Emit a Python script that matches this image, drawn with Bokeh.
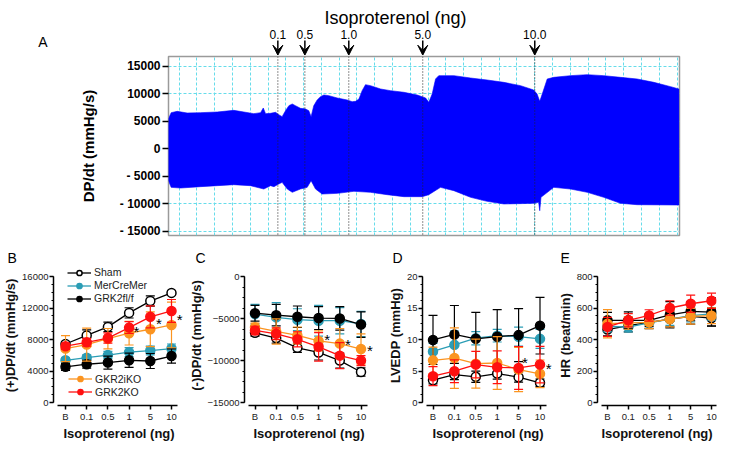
from bokeh.plotting import figure
from bokeh.layouts import column, row
from bokeh.models import (FixedTicker, SingleIntervalTicker, Span, Arrow, VeeHead,
                          Legend, LegendItem, Range1d)
from bokeh.embed import file_html
from bokeh.resources import INLINE
from bokeh.core.properties import value

FONT = "Liberation Sans"

# ---------------- Panel A : pressure-derivative trace envelope ----------------
# time in chart grid units, values in mmHg/s
upper_t = [0.00, 0.15, 0.49, 1.05, 1.80, 2.74, 3.67, 4.24, 4.80, 5.18, 5.33, 5.46, 5.74, 6.02,
           6.20, 6.39, 6.58, 6.77, 6.96, 7.14, 7.42, 7.71, 7.89, 8.02, 8.17, 8.36, 8.55, 8.74,
           9.02, 9.49, 10.05, 10.33, 10.52, 10.71, 10.89, 11.08, 11.36, 11.93, 12.49, 13.24,
           13.99, 14.46, 14.64, 14.83, 15.02, 15.20, 16.05, 16.99, 17.92, 18.86, 19.80, 20.54,
           20.73, 20.88, 21.02, 21.30, 21.67, 22.61, 23.55, 24.48, 25.42, 26.36, 27.30, 28.24,
           28.71]
upper_v = [5500, 6600, 6840, 6540, 6600, 6720, 7020, 6720, 6420, 6600, 7450, 6420, 6480, 6660,
           6240, 5870, 6960, 7870, 8180, 7870, 7390, 7270, 6960, 5870, 7870, 8900, 9510, 9810,
           9690, 9270, 8900, 8600, 8660, 9080, 10600, 11690, 11510, 10900, 10600, 10300,
           9810, 9270, 8480, 9990, 12720, 13330, 13330, 12900, 12540, 12110, 11510, 10720,
           9990, 8660, 9990, 12720, 13020, 13330, 13510, 13330, 13020, 12720, 12110, 11330,
           10900]
lower_t = [0.00, 0.15, 0.68, 1.80, 2.74, 3.67, 4.61, 5.36, 5.74, 5.93, 6.20, 6.39, 6.68, 6.96,
           7.42, 7.80, 8.02, 8.27, 8.64, 9.49, 10.43, 11.36, 12.30, 13.24, 14.27, 14.64, 15.30,
           16.05, 16.99, 17.92, 18.86, 20.54, 20.82, 20.88, 20.95, 21.67, 22.61, 23.55, 24.48,
           25.42, 26.36, 28.71]
lower_v = [-5760, -6980, -7100, -6850, -6670, -6490, -6670, -7280, -6670, -6850, -6370, -6070,
           -7280, -7880, -7280, -6980, -5760, -7280, -8190, -8070, -7700, -7880, -8310, -8670,
           -8670, -8310, -6980, -7580, -8790, -9520, -10000, -9880, -9700, -11220, -8790,
           -6980, -7280, -7880, -8790, -9880, -10130, -10190]
a_ticks = [-15000, -10000, -5000, 0, 5000, 10000, 15000]
a_tick_labels = ["- 15000", "- 10000", "- 5000", "0", "5000", "10000", "15000"]
inject_t = [6.15, 7.67, 10.14, 14.30, 20.60]
inject_labels = ["0.1", "0.5", "1.0", "5.0", "10.0"]
grid_t = [0.6 + k for k in range(29)]

# ---------------- Panels B-E : dose response ----------------
categories = ["B", "0.1", "0.5", "1", "5", "10"]
groups = ["Sham", "MerCreMer", "GRK2fl/f", "GKR2iKO", "GRK2KO"]

b_mean = {"Sham": [7430, 8520, 9600, 11380, 12880, 13920],
          "MerCreMer": [5360, 5690, 6020, 6400, 6600, 6850],
          "GRK2fl/f": [4530, 4860, 5070, 5360, 5270, 5900],
          "GKR2iKO": [6850, 7350, 8100, 8800, 9300, 9850],
          "GRK2KO": [7150, 7640, 8180, 9510, 10880, 11630]}
b_err = {"Sham": [300, 700, 600, 650, 650, 250],
         "MerCreMer": [300, 350, 460, 560, 560, 580],
         "GRK2fl/f": [450, 500, 830, 900, 950, 900],
         "GKR2iKO": [1650, 2100, 1300, 1500, 2200, 2900],
         "GRK2KO": [400, 500, 650, 750, 1400, 1450]}
c_mean = {"Sham": [-6700, -7330, -8490, -9040, -10010, -11370],
          "MerCreMer": [-4480, -4870, -5140, -5260, -5260, -5650],
          "GRK2fl/f": [-4370, -4600, -4790, -4950, -4990, -5720],
          "GKR2iKO": [-6040, -6540, -7010, -7670, -7990, -8640],
          "GRK2KO": [-6420, -6820, -7480, -8370, -9420, -10010]}
c_err = {"Sham": [400, 600, 550, 900, 900, 500],
         "MerCreMer": [1170, 1750, 1300, 1830, 1560, 1500],
         "GRK2fl/f": [935, 1280, 1280, 1360, 1400, 1520],
         "GKR2iKO": [500, 1500, 1000, 1200, 1800, 1800],
         "GRK2KO": [500, 700, 900, 1700, 1550, 600]}
d_mean = {"Sham": [3.55, 4.44, 4.08, 4.60, 4.02, 3.13],
          "MerCreMer": [8.1, 9.15, 10.2, 10.6, 10.45, 10.1],
          "GRK2fl/f": [9.93, 10.8, 10.1, 10.45, 10.7, 12.2],
          "GKR2iKO": [6.69, 7.05, 6.17, 6.27, 5.23, 4.55],
          "GRK2KO": [4.18, 4.97, 6.02, 5.59, 5.49, 6.02]}
d_err = {"Sham": [0.6, 0.8, 0.9, 0.9, 0.8, 0.6],
         "MerCreMer": [1.3, 2.2, 1.05, 1.0, 1.5, 1.5],
         "GRK2fl/f": [3.9, 4.6, 4.2, 4.3, 4.2, 4.5],
         "GKR2iKO": [2.1, 4.8, 3.9, 4.2, 3.5, 2.2],
         "GRK2KO": [1.5, 1.8, 2.1, 2.6, 3.4, 2.9]}
e_mean = {"Sham": [463, 488, 509, 530, 547, 536],
          "MerCreMer": [484, 478, 505, 530, 551, 563],
          "GRK2fl/f": [522, 522, 522, 557, 579, 574],
          "GKR2iKO": [500, 505, 509, 530, 547, 551],
          "GRK2KO": [480, 522, 553, 600, 627, 646]}
e_err = {"Sham": [40, 40, 40, 50, 50, 50],
         "MerCreMer": [35, 30, 35, 40, 40, 40],
         "GRK2fl/f": [50, 53, 40, 84, 60, 90],
         "GKR2iKO": [90, 40, 40, 50, 50, 50],
         "GRK2KO": [60, 42, 36, 46, 55, 48]}

b_star_x = [3.35, 4.41, 5.38]
b_star_y = [9430, 10350, 10970]
c_star_x = [3.40, 4.38, 5.42]
c_star_y = [-7090, -7710, -8490]
d_star_x = [4.30, 5.41]
d_star_y = [6.8, 5.86]

line_col = {"Sham": "#000000", "MerCreMer": "#2b9db5", "GRK2fl/f": "#000000",
            "GKR2iKO": "#fb9420", "GRK2KO": "#ff1010"}
fill_col = {"Sham": "#ffffff", "MerCreMer": "#2b9db5", "GRK2fl/f": "#000000",
            "GKR2iKO": "#fb9420", "GRK2KO": "#ff1010"}

# ======================= Panel A geometry =======================
gpx = 17.78  # px per grid unit of panel A
A_LEFT, A_FW, A_FH = 168, 511, 179
A_RIGHT = 716 - A_LEFT - A_FW
A_Y0, A_Y1 = -15730, 16810
x_range_a = Range1d(0, A_FW / gpx)

# ======================= Top strip (title, arrows, dose labels) =======================
STRIP_H = 55
pTop = figure(frame_width=A_FW, frame_height=STRIP_H, min_border_left=A_LEFT,
              min_border_right=A_RIGHT, min_border_top=0, min_border_bottom=0, title=None,
              x_range=x_range_a, y_range=Range1d(0, STRIP_H),
              output_backend="svg", toolbar_location=None)
pTop.xaxis.visible = False
pTop.grid.visible = False
pTop.outline_line_color = None
# the panel letter "A" is carried by the strip's (otherwise invisible) left axis
ta = pTop.yaxis[0]
ta.ticker = FixedTicker(ticks=[14])
ta.major_label_overrides = {14: "A"}
ta.axis_line_color = None
ta.major_tick_line_color = None
ta.minor_tick_line_color = None
ta.major_tick_out = 0
ta.major_tick_in = 0
ta.major_label_standoff = A_LEFT - 47
ta.major_label_text_font = FONT
ta.major_label_text_font_size = "14px"
ta.major_label_text_color = "black"
# y in strip = px above panel A frame top
for t in inject_t:
    pTop.add_layout(Arrow(end=VeeHead(size=10, fill_color="black", line_color="black",
                                      line_width=1),
                          x_start=t, y_start=15, x_end=t, y_end=0.3,
                          line_color="black", line_width=1.5))
pTop.text(inject_t, [21] * len(inject_t), text=inject_labels, text_font=value(FONT),
          text_font_size="12px", text_align="center", text_baseline="middle",
          text_color="black")
pTop.text([(395 - 168) / gpx], [38], text=["Isoproterenol (ng)"], text_font=value(FONT),
          text_font_size="18px", text_align="center", text_baseline="middle",
          text_color="black")

# ======================= Panel A =======================
pA = figure(frame_width=A_FW, frame_height=A_FH, min_border_left=A_LEFT,
            min_border_right=A_RIGHT, min_border_top=1, min_border_bottom=3, title=None,
            x_range=x_range_a, y_range=Range1d(A_Y0, A_Y1),
            output_backend="svg", toolbar_location=None)
pA.xaxis.visible = False
pA.outline_line_color = "#9a9a9a"
pA.outline_line_width = 1.5
pA.xgrid.ticker = FixedTicker(ticks=grid_t)
pA.ygrid.ticker = FixedTicker(ticks=a_ticks)
pA.grid.grid_line_color = "#66dcea"
pA.grid.grid_line_dash = "3 2"
pA.grid.grid_line_width = 1
ya = pA.yaxis[0]
ya.ticker = FixedTicker(ticks=a_ticks)
ya.major_label_overrides = {t: s for t, s in zip(a_ticks, a_tick_labels)}
ya.axis_line_color = None
ya.major_tick_line_color = "black"
ya.major_tick_line_width = 1.5
ya.major_tick_out = 6
ya.major_tick_in = 0
ya.minor_tick_line_color = None
ya.major_label_standoff = 2
ya.major_label_text_font = FONT
ya.major_label_text_font_style = "bold"
ya.major_label_text_font_size = "12px"
ya.major_label_text_color = "black"
ya.axis_label = "DP/dt (mmHg/s)"
ya.axis_label_text_font = FONT
ya.axis_label_text_font_style = "bold"
ya.axis_label_text_font_size = "15px"
ya.axis_label_text_color = "black"
ya.axis_label_standoff = 20

xs_patch = upper_t + lower_t[::-1]
ys_patch = upper_v + lower_v[::-1]
pA.patch(xs_patch, ys_patch, fill_color="#0000ff", line_color="#0000ff", line_width=0.6)
for t in inject_t:
    pA.add_layout(Span(location=t, dimension="height", line_color="#222222",
                       line_dash="1 2", line_width=1))

# ======================= Panels B-E =======================
TICK_PX = 126  # px spanned by the y tick range
GAP = 3        # px below zero tick
EXT = 11       # px above top tick (room for legend)
FH = TICK_PX + GAP + EXT


def panel(fw, sp, first_px, mbl, mbr, ymin, ymax, step, ytitle, mean, err, letter,
          letter_off, star_x=None, star_y=None):
    upp = (ymax - ymin) / TICK_PX
    x0 = -first_px / sp
    xr = Range1d(x0, x0 + fw / sp)
    yr = Range1d(ymin - GAP * upp, ymax + EXT * upp)
    p = figure(frame_width=fw, frame_height=FH, min_border_left=mbl, min_border_right=mbr,
               min_border_top=27, min_border_bottom=33, x_range=xr, y_range=yr,
               title=letter, output_backend="svg", toolbar_location=None)
    p.title.align = "left"
    p.title.offset = letter_off
    p.title.standoff = 0
    p.title.text_font = FONT
    p.title.text_font_style = "normal"
    p.title.text_font_size = "14px"
    p.title.text_color = "black"
    p.outline_line_color = None
    p.grid.visible = False
    xa = p.xaxis[0]
    xa.ticker = FixedTicker(ticks=list(range(len(categories))))
    xa.major_label_overrides = {i: c for i, c in enumerate(categories)}
    xa.bounds = (x0 + 4 / sp, 5 + 6 / sp)
    xa.minor_tick_line_color = None
    xa.axis_label = "Isoproterenol (ng)"
    xa.major_label_standoff = 1
    yax = p.yaxis[0]
    yax.ticker = SingleIntervalTicker(interval=step, num_minor_ticks=4)
    yax.bounds = (ymin, ymax)
    yax.axis_label = ytitle
    yax.minor_tick_out = 2
    yax.minor_tick_in = 0
    yax.minor_tick_line_width = 1
    yax.minor_tick_line_color = "black"
    yax.major_label_standoff = 1
    for ax in (xa, yax):
        ax.axis_line_width = 1.5
        ax.axis_line_color = "black"
        ax.major_tick_line_width = 1.5
        ax.major_tick_line_color = "black"
        ax.major_tick_out = 4
        ax.major_tick_in = 0
        ax.major_label_text_font = FONT
        ax.major_label_text_font_size = "9.5px"
        ax.major_label_text_color = "#222222"
        ax.axis_label_text_font = FONT
        ax.axis_label_text_font_style = "bold"
        ax.axis_label_text_font_size = "13px"
        ax.axis_label_text_color = "#111111"
        ax.axis_label_standoff = 1

    xs = list(range(len(categories)))
    cw = 4.5 / sp
    rends = {}
    for g in groups:
        v = mean[g]
        e = err[g]
        lo = [a - b for a, b in zip(v, e)]
        hi = [a + b for a, b in zip(v, e)]
        c = line_col[g]
        p.segment(xs, lo, xs, hi, line_color=c, line_width=1.2)
        p.segment([x - cw for x in xs], hi, [x + cw for x in xs], hi, line_color=c, line_width=1.2)
        p.segment([x - cw for x in xs], lo, [x + cw for x in xs], lo, line_color=c, line_width=1.2)
        lr = p.line(xs, v, line_color=c, line_width=1.3)
        sr = p.scatter(xs, v, size=9, marker="circle", fill_color=fill_col[g], line_color=c,
                       line_width=1.5)
        rends[g] = (lr, sr)
    if star_x:
        p.text(star_x, star_y, text=["*"] * len(star_x), text_font=value(FONT),
               text_font_size="15px", text_align="center", text_baseline="middle",
               text_color="black", y_offset=3)
    return p, rends


pB, rB = panel(131, 21.2, 12, 51, 0, 0, 16000, 4000, "(+)DP/dt (mmHg/s)", b_mean, b_err,
               "B", -46, b_star_x, b_star_y)
pC, _ = panel(129, 21.2, 10.5, 60, 0, -15000, 0, 5000, "(-)DP/dt (mmHg/s)", c_mean, c_err,
              "C", -49, c_star_x, c_star_y)
pD, _ = panel(131, 21.4, 10.5, 49, 0, 0, 20, 5, "LVEDP (mmHg)", d_mean, d_err,
              "D", -30, d_star_x, d_star_y)
pE, _ = panel(119, 20.8, 10, 44, 2, 0, 800, 200, "HR (beat/min)", e_mean, e_err,
              "E", -37)


def make_legend(names, loc):
    lg = Legend(items=[LegendItem(label=n, renderers=list(rB[n])) for n in names],
                location=loc, orientation="vertical")
    lg.border_line_color = None
    lg.background_fill_alpha = 0
    lg.padding = 0
    lg.margin = 0
    lg.spacing = 0
    lg.glyph_width = 24
    lg.glyph_height = 13
    lg.label_height = 13
    lg.label_standoff = 3
    lg.label_text_font = FONT
    lg.label_text_font_size = "10.5px"
    lg.label_text_color = "#222222"
    return lg


# legend location = bottom-left corner, px from frame bottom-left
pB.add_layout(make_legend(["Sham", "MerCreMer", "GRK2fl/f"], (14, GAP + TICK_PX - 28.5)))
pB.add_layout(make_legend(["GKR2iKO", "GRK2KO"], (15, GAP + 4)))

layout = column(pTop, pA, row(pB, pC, pD, pE))
open("out.html", "w").write(file_html(layout, INLINE))
